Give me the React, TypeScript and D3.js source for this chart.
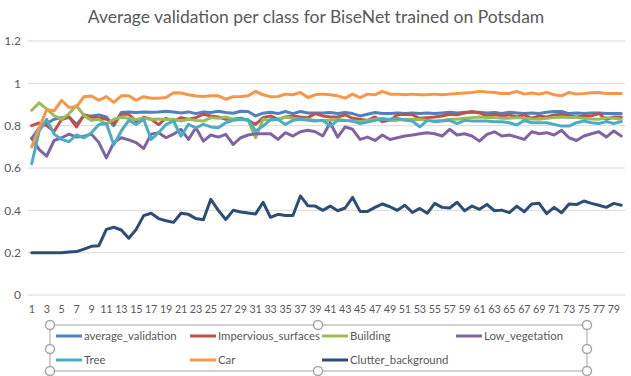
import React from 'react';
import * as d3 from 'd3';

const epochs = d3.range(1, 81);
const yTicks = [0, 0.2, 0.4, 0.6, 0.8, 1, 1.2];

const averageValidation = [
  0.74, 0.79, 0.81, 0.83, 0.838, 0.84, 0.806, 0.846, 0.846, 0.851, 0.841, 0.80, 0.862, 0.865, 0.862, 0.865, 0.863, 0.865, 0.868, 0.865,
  0.86, 0.865, 0.857, 0.865, 0.862, 0.868, 0.862, 0.859, 0.868, 0.867, 0.846, 0.859, 0.863, 0.857, 0.867, 0.857, 0.867, 0.86, 0.86, 0.86,
  0.862, 0.857, 0.862, 0.857, 0.846, 0.854, 0.862, 0.857, 0.857, 0.86, 0.857, 0.86, 0.857, 0.86, 0.857, 0.86, 0.863, 0.86, 0.863, 0.863,
  0.863, 0.86, 0.862, 0.857, 0.863, 0.86, 0.857, 0.86, 0.857, 0.863, 0.867, 0.867, 0.857, 0.86, 0.857, 0.86, 0.86, 0.857, 0.857, 0.857,
];
const imperviousSurfaces = [
  0.80, 0.813, 0.80, 0.773, 0.829, 0.841, 0.794, 0.852, 0.84, 0.838, 0.83, 0.81, 0.854, 0.854, 0.82, 0.84, 0.83, 0.805, 0.835, 0.82,
  0.838, 0.83, 0.838, 0.854, 0.846, 0.841, 0.83, 0.83, 0.835, 0.825, 0.806, 0.838, 0.846, 0.83, 0.841, 0.846, 0.841, 0.838, 0.857, 0.846,
  0.841, 0.841, 0.851, 0.835, 0.83, 0.825, 0.841, 0.819, 0.825, 0.851, 0.854, 0.851, 0.835, 0.838, 0.841, 0.846, 0.854, 0.851, 0.86, 0.867,
  0.86, 0.846, 0.854, 0.846, 0.851, 0.841, 0.851, 0.835, 0.846, 0.841, 0.851, 0.854, 0.846, 0.841, 0.846, 0.846, 0.857, 0.83, 0.841, 0.841,
];
const building = [
  0.873, 0.908, 0.879, 0.848, 0.83, 0.857, 0.895, 0.848, 0.825, 0.83, 0.806, 0.83, 0.84, 0.835, 0.829, 0.835, 0.83, 0.832, 0.829, 0.83,
  0.822, 0.83, 0.825, 0.822, 0.838, 0.835, 0.841, 0.83, 0.83, 0.825, 0.743, 0.83, 0.825, 0.83, 0.841, 0.835, 0.83, 0.83, 0.825, 0.825,
  0.825, 0.83, 0.825, 0.822, 0.819, 0.825, 0.83, 0.835, 0.825, 0.825, 0.83, 0.829, 0.83, 0.825, 0.822, 0.825, 0.83, 0.83, 0.835, 0.838,
  0.841, 0.838, 0.838, 0.835, 0.835, 0.838, 0.835, 0.832, 0.83, 0.835, 0.838, 0.841, 0.838, 0.838, 0.835, 0.832, 0.83, 0.838, 0.835, 0.83,
];
const lowVegetation = [
  0.74, 0.687, 0.656, 0.73, 0.743, 0.76, 0.746, 0.75, 0.76, 0.72, 0.648, 0.72, 0.743, 0.733, 0.72, 0.692, 0.76, 0.767, 0.743, 0.76,
  0.783, 0.735, 0.79, 0.727, 0.756, 0.746, 0.759, 0.711, 0.743, 0.756, 0.762, 0.762, 0.762, 0.735, 0.767, 0.751, 0.771, 0.778, 0.771, 0.751,
  0.814, 0.746, 0.794, 0.783, 0.735, 0.746, 0.73, 0.756, 0.735, 0.743, 0.751, 0.756, 0.762, 0.767, 0.762, 0.751, 0.783, 0.756, 0.762, 0.751,
  0.727, 0.759, 0.771, 0.751, 0.756, 0.746, 0.735, 0.771, 0.762, 0.767, 0.756, 0.778, 0.743, 0.73, 0.751, 0.762, 0.771, 0.746, 0.775, 0.751,
];
const tree = [
  0.62, 0.775, 0.83, 0.76, 0.735, 0.724, 0.756, 0.743, 0.767, 0.806, 0.81, 0.71, 0.775, 0.825, 0.806, 0.83, 0.735, 0.767, 0.806, 0.822,
  0.75, 0.806, 0.79, 0.806, 0.794, 0.79, 0.814, 0.825, 0.829, 0.829, 0.775, 0.798, 0.829, 0.829, 0.806, 0.825, 0.83, 0.825, 0.822, 0.825,
  0.798, 0.825, 0.825, 0.822, 0.81, 0.817, 0.825, 0.83, 0.83, 0.835, 0.825, 0.822, 0.794, 0.825, 0.819, 0.822, 0.825, 0.81, 0.825, 0.822,
  0.822, 0.822, 0.819, 0.819, 0.814, 0.803, 0.825, 0.814, 0.814, 0.814, 0.806, 0.798, 0.798, 0.814, 0.822, 0.814, 0.81, 0.819, 0.81, 0.819,
];
const car = [
  0.70, 0.79, 0.875, 0.87, 0.92, 0.886, 0.889, 0.937, 0.94, 0.92, 0.937, 0.91, 0.941, 0.941, 0.92, 0.937, 0.93, 0.93, 0.933, 0.956,
  0.954, 0.946, 0.94, 0.938, 0.941, 0.941, 0.925, 0.937, 0.938, 0.941, 0.962, 0.946, 0.937, 0.938, 0.949, 0.946, 0.957, 0.933, 0.946, 0.949,
  0.946, 0.941, 0.93, 0.949, 0.933, 0.949, 0.946, 0.962, 0.949, 0.949, 0.946, 0.949, 0.946, 0.946, 0.949, 0.946, 0.949, 0.952, 0.954, 0.957,
  0.962, 0.959, 0.957, 0.952, 0.952, 0.962, 0.949, 0.954, 0.949, 0.957, 0.946, 0.941, 0.957, 0.949, 0.952, 0.956, 0.957, 0.952, 0.952, 0.952,
];
const clutterBackground = [
  0.2, 0.2, 0.2, 0.2, 0.2, 0.203, 0.205, 0.217, 0.23, 0.233, 0.31, 0.32, 0.307, 0.268, 0.31, 0.375, 0.386, 0.361, 0.351, 0.343,
  0.386, 0.381, 0.361, 0.356, 0.452, 0.40, 0.357, 0.40, 0.392, 0.387, 0.383, 0.438, 0.367, 0.381, 0.376, 0.376, 0.468, 0.422, 0.42, 0.40,
  0.42, 0.398, 0.411, 0.461, 0.395, 0.395, 0.414, 0.43, 0.417, 0.40, 0.424, 0.39, 0.409, 0.386, 0.433, 0.414, 0.411, 0.438, 0.398, 0.42,
  0.405, 0.428, 0.398, 0.401, 0.389, 0.42, 0.393, 0.43, 0.433, 0.384, 0.414, 0.389, 0.43, 0.427, 0.444, 0.433, 0.424, 0.414, 0.433, 0.424,
];

const series = [
  { name: 'average_validation', color: '#4F81BD', values: averageValidation },
  { name: 'Impervious_surfaces', color: '#C0504D', values: imperviousSurfaces },
  { name: 'Building', color: '#9BBB59', values: building },
  { name: 'Low_vegetation', color: '#8064A2', values: lowVegetation },
  { name: 'Tree', color: '#4BACC6', values: tree },
  { name: 'Car', color: '#F79646', values: car },
  { name: 'Clutter_background', color: '#2C4D75', values: clutterBackground },
];

// legend slots, Excel puts 4 per row
const legendCols = [56, 190, 322, 456];
const legendRows = [336, 360];

const W = 631;
const H = 376;
const font = 'Lato, "Open Sans", sans-serif';
const textColor = '#595959';

export default function App() {
  const x = d3.scaleBand<number>().domain(epochs).range([28, 625]);
  const y = d3.scaleLinear().domain([0, 1.2]).range([295, 41]);
  const cx = (e: number) => (x(e) ?? 0) + x.bandwidth() / 2;

  const line = d3
    .line<number>()
    .x((_, i) => cx(epochs[i]))
    .y(d => y(d));

  const handles = [
    [50, 325], [318, 325], [587, 325],
    [50, 349], [587, 349],
    [50, 371], [318, 371], [587, 371],
  ];

  return (
    <svg width={W} height={H} style={{ position: 'absolute', left: 0, top: 0, background: '#fff' }}>
      <rect width={W} height={H} fill="#fff" />
      <text x={316} y={23} textAnchor="middle" fontFamily={font} fontSize={17.5} fill={textColor}>
        Average validation per class for BiseNet trained on Potsdam
      </text>

      {yTicks.map(t => (
        <g key={t}>
          <line x1={28} x2={625} y1={y(t)} y2={y(t)} stroke="#d9d9d9" strokeWidth={1} />
          <text x={21} y={y(t)} dy="0.35em" textAnchor="end" fontFamily={font} fontSize={12} fill={textColor}>
            {t}
          </text>
        </g>
      ))}

      {epochs.filter(e => e % 2 === 1).map(e => (
        <text key={e} x={cx(e)} y={313} textAnchor="middle" fontFamily={font} fontSize={10.8} letterSpacing={-0.2} fill={textColor}>
          {e}
        </text>
      ))}

      {series.map(s => (
        <path key={s.name} d={line(s.values) ?? ''} fill="none" stroke={s.color} strokeWidth={3} strokeLinejoin="round" strokeLinecap="round" />
      ))}

      {/* selected legend frame */}
      <rect x={50} y={325} width={537} height={46} fill="none" stroke="#a6a6a6" strokeWidth={1} />
      {series.map((s, i) => {
        const lx = legendCols[i % 4];
        const ly = legendRows[Math.floor(i / 4)];
        return (
          <g key={s.name}>
            <line x1={lx} x2={lx + 26} y1={ly} y2={ly} stroke={s.color} strokeWidth={3} />
            <text x={lx + 28} y={ly} dy="0.35em" fontFamily={font} fontSize={11.4} fill={textColor}>
              {s.name}
            </text>
          </g>
        );
      })}
      {handles.map(([hx, hy], i) => (
        <circle key={i} cx={hx} cy={hy} r={4.5} fill="#fff" stroke="#a6a6a6" strokeWidth={1.5} />
      ))}
    </svg>
  );
}
